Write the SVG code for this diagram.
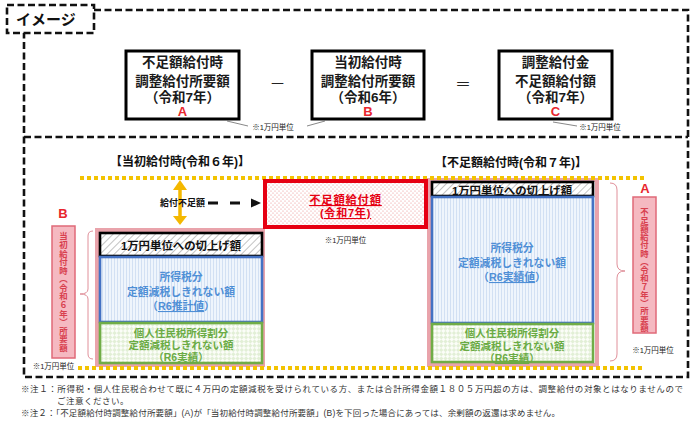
<svg xmlns="http://www.w3.org/2000/svg" width="700" height="435" viewBox="0 0 700 435">
<style>
.jp{font-family:"Liberation Sans","Noto Sans CJK JP",sans-serif}
.bx{font-family:"Liberation Sans","Noto Sans CJK JP",sans-serif;font-weight:bold;font-size:13.5px;text-anchor:middle;fill:#1a1a1a}
.ltr{font-family:"Liberation Sans","Noto Sans CJK JP",sans-serif;font-weight:bold;font-size:13px;text-anchor:middle;fill:#e8262d}
.unit{font-family:"Liberation Sans","Noto Sans CJK JP",sans-serif;font-size:7.5px;text-anchor:middle;fill:#222}
.frame{fill:none;stroke:#111;stroke-width:2.6;stroke-dasharray:7 3.5}
.hdr{font-family:"Liberation Sans","Noto Sans CJK JP",sans-serif;font-weight:bold;font-size:12px;text-anchor:middle;fill:#111}
.hat{fill:url(#hatch);stroke:#000;stroke-width:2.6}
.blu{fill:url(#vstripe);stroke:#4472c4;stroke-width:2.6}
.grn{fill:url(#check);stroke:#70ad47;stroke-width:2.6}
.pinkf{fill:none;stroke:#e9a3ab;stroke-width:4}
.bt{font-family:"Liberation Sans","Noto Sans CJK JP",sans-serif;font-weight:bold;font-size:10.8px;text-anchor:middle;fill:#4f8fd6}
.gt{font-family:"Liberation Sans","Noto Sans CJK JP",sans-serif;font-weight:bold;font-size:10.5px;text-anchor:middle;fill:#6aab44}
.kt{font-family:"Liberation Sans","Noto Sans CJK JP",sans-serif;font-weight:bold;font-size:11.4px;text-anchor:middle;fill:#111}
.vbar{fill:#f5b9c1;stroke:#e06a78;stroke-width:1.5}
.vt{font-family:"Noto Sans CJK JP",sans-serif;font-weight:bold;font-size:8.4px;text-anchor:middle;fill:#d8404e;writing-mode:vertical-rl}
.yel{fill:none;stroke:#f3c300;stroke-width:4;stroke-dasharray:4 3}
.brace{fill:none;stroke:#e0909a;stroke-width:1}
.note{font-family:"Liberation Sans","Noto Sans CJK JP",sans-serif;font-size:8.5px;fill:#333}
.ul{text-decoration:underline}
</style>
<defs>
<pattern id="hatch" width="5" height="5" patternUnits="userSpaceOnUse" patternTransform="rotate(45)">
<rect width="5" height="5" fill="#fff"/>
<line x1="0" y1="0" x2="0" y2="5" stroke="#b4b4b4" stroke-width="1.6"/>
</pattern>
<pattern id="vstripe" width="3" height="10" patternUnits="userSpaceOnUse">
<rect width="3" height="10" fill="#eff5fc"/>
<line x1="0.5" y1="0" x2="0.5" y2="10" stroke="#d2e0f3" stroke-width="1"/>
</pattern>
<pattern id="check" width="6" height="6" patternUnits="userSpaceOnUse" patternTransform="rotate(45)">
<rect width="6" height="6" fill="#fbfdf8"/>
<rect width="3" height="3" fill="#e2efd6"/>
<rect x="3" y="3" width="3" height="3" fill="#e2efd6"/>
</pattern>
<pattern id="dots" width="4" height="4" patternUnits="userSpaceOnUse">
<rect width="4" height="4" fill="#fff"/>
<circle cx="1" cy="1" r="0.6" fill="#e98a8a"/>
<circle cx="3" cy="3" r="0.6" fill="#e98a8a"/>
</pattern>
</defs>
<rect width="700" height="435" fill="#fff"/>

<g id="frame">
<path class="frame" d="M94,10 H688 V377 H24 V33"/>
<line class="frame" x1="24" y1="137" x2="688" y2="137"/>
<rect class="frame" x="7" y="5" width="87" height="28" style="fill:#fff"/>
<text class="jp" x="16" y="24.5" font-size="15" font-weight="bold" fill="#111">イメージ</text>
</g>

<g id="boxA">
<rect x="126" y="51" width="113" height="68" fill="#fff" stroke="#000" stroke-width="3"/>
<text class="bx" x="182.5" y="66.5">不足額給付時</text>
<text class="bx" x="182.5" y="85.5">調整給付所要額</text>
<text class="bx" x="182.5" y="101.5">（令和7年）</text>
<text class="ltr" x="182.5" y="115.5">A</text>
</g>
<g id="boxB">
<rect x="312" y="51" width="112" height="68" fill="#fff" stroke="#000" stroke-width="3"/>
<text class="bx" x="368" y="66.5">当初給付時</text>
<text class="bx" x="368" y="85.5">調整給付所要額</text>
<text class="bx" x="368" y="101.5">（令和6年）</text>
<text class="ltr" x="368" y="115.5">B</text>
</g>
<g id="boxC">
<rect x="499" y="51" width="113" height="68" fill="#fff" stroke="#000" stroke-width="3"/>
<text class="bx" x="555.5" y="66.5">調整給付金</text>
<text class="bx" x="555.5" y="85.5">不足額給付額</text>
<text class="bx" x="555.5" y="101.5">（令和7年）</text>
<text class="ltr" x="555.5" y="115.5">C</text>
</g>
<g id="operators">
<text class="jp" x="277.5" y="89" font-size="16" text-anchor="middle" fill="#222">－</text>
<text class="jp" x="463" y="90" font-size="16" text-anchor="middle" fill="#222">＝</text>
</g>
<g id="units-top">
<text class="unit" x="273" y="130">※1万円単位</text>
<text class="unit" x="600" y="130">※1万円単位</text>
</g>

<g id="headers">
<text class="hdr" x="180" y="165.5">【当初給付時(令和６年)】</text>
<text class="hdr" x="511" y="166.5">【不足額給付時(令和７年)】</text>
</g>

<g id="stackB">
<rect class="pinkf" x="97" y="230" width="166" height="135"/>
<rect class="hat" x="100" y="233" width="162" height="23"/>
<text class="kt" x="181" y="249.5">1万円単位への切上げ額</text>
<rect class="blu" x="100" y="257" width="162" height="65"/>
<text class="bt" x="181" y="281">所得税分</text>
<text class="bt" x="181" y="296">定額減税しきれない額</text>
<text class="bt" x="181" y="310">（<tspan class="ul">R6推計値</tspan>）</text>
<rect class="grn" x="100" y="323" width="162" height="40"/>
<text class="gt" x="181" y="337">個人住民税所得割分</text>
<text class="gt" x="181" y="349">定額減税しきれない額</text>
<text class="gt" x="181" y="361">（<tspan class="ul">R6実績</tspan>）</text>
</g>
<g id="stackA">
<rect class="pinkf" x="429" y="180" width="168" height="185"/>
<rect class="hat" x="432" y="182" width="161" height="14"/>
<text class="kt" x="512" y="195">1万円単位への切上げ額</text>
<rect class="blu" x="432" y="197" width="161" height="126"/>
<text class="bt" x="512" y="252">所得税分</text>
<text class="bt" x="512" y="267">定額減税しきれない額</text>
<text class="bt" x="512" y="281">（<tspan class="ul">R6実績値</tspan>）</text>
<rect class="grn" x="432" y="324" width="161" height="38"/>
<text class="gt" x="512" y="337">個人住民税所得割分</text>
<text class="gt" x="512" y="350">定額減税しきれない額</text>
<text class="gt" x="512" y="362">（<tspan class="ul">R6実績</tspan>）</text>
</g>

<g id="levels">
<line class="yel" x1="80" y1="178" x2="645" y2="178"/>
<line class="yel" x1="78" y1="368" x2="642" y2="368"/>
</g>

<g id="redbox">
<rect x="265" y="181" width="161" height="46" fill="url(#dots)" stroke="#e60012" stroke-width="4"/>
<text class="jp ul" x="345.5" y="204" font-size="11.3" font-weight="bold" fill="#e60012" text-anchor="middle" letter-spacing="0.8">不足額給付額</text>
<text class="jp ul" x="345.5" y="217" font-size="11" font-weight="bold" fill="#e60012" text-anchor="middle" letter-spacing="0.8">(令和7年)</text>
<text class="unit" x="345.5" y="243" font-size="8">※1万円単位</text>
</g>

<g id="labelB">
<text class="ltr" x="63" y="218">B</text>
<rect class="vbar" x="52" y="226" width="23" height="132"/>
<text class="vt" x="63.5" y="292" textLength="120" lengthAdjust="spacing">当初給付時（令和６年）所要額</text>
<text class="unit" x="53.5" y="369">※1万円単位</text>
</g>
<g id="labelA">
<text class="ltr" x="645" y="193">A</text>
<rect class="vbar" x="633" y="197" width="23" height="136"/>
<text class="vt" x="644.5" y="270" textLength="124" lengthAdjust="spacing">不足額給付時（令和７年）所要額</text>
<text class="unit" x="653" y="353">※1万円単位</text>
</g>

<g id="connectors">
<polyline points="227,121 248,126" fill="none" stroke="#555" stroke-width="0.7"/>
<polyline points="307,126 325,121" fill="none" stroke="#555" stroke-width="0.7"/>
<polyline points="553,122 577,126" fill="none" stroke="#555" stroke-width="0.7"/>
<line x1="180" y1="189" x2="180" y2="217" stroke="#f4b800" stroke-width="3.5"/>
<polygon points="180,180 187,190 173,190" fill="#f4b800"/>
<polygon points="173,216 187,216 180,225" fill="#f4b800"/>
<line x1="208" y1="203" x2="250" y2="203" stroke="#111" stroke-width="3" stroke-dasharray="10 12"/>
<polygon points="251,198.5 261,203 251,207.5" fill="#111"/>
<path class="brace" d="M93,231 Q88,231 88,236 L88,289 Q88,294 80,294 Q88,294 88,299 L88,354 Q88,359 93,359"/>
<path class="brace" d="M610,183 Q617,183 617,190 L617,264 Q617,271 625,271 Q617,271 617,278 L617,354 Q617,361 610,361"/>
</g>
<text class="jp" x="160" y="206" font-size="9" font-weight="bold" fill="#111">給付不足額</text>

<g id="notes">
<text class="note" x="21" y="392" textLength="662" lengthAdjust="spacing">※注１：所得税・個人住民税合わせて既に４万円の定額減税を受けられている方、または合計所得金額１８０５万円超の方は、調整給付の対象とはなりませんので</text>
<text class="note" x="57" y="404" letter-spacing="0.5">ご注意ください。</text>
<text class="note" x="21" y="416" textLength="539" lengthAdjust="spacing">※注２：「不足額給付時調整給付所要額」(A)が「当初給付時調整給付所要額」(B)を下回った場合にあっては、余剰額の返還は求めません。</text>
</g>
</svg>
